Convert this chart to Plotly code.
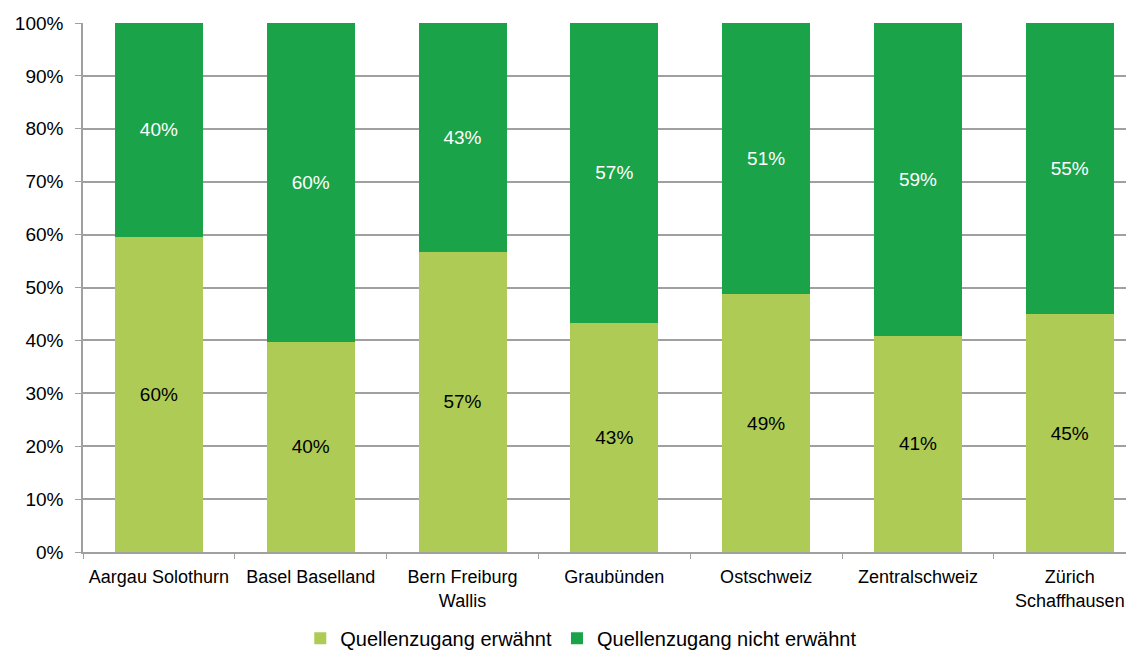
import plotly.graph_objects as go

categories = ["Aargau Solothurn", "Basel Baselland", "Bern Freiburg<br>Wallis", "Graubünden",
              "Ostschweiz", "Zentralschweiz", "Zürich<br>Schaffhausen"]
erwaehnt = [59.6, 39.7, 56.8, 43.3, 48.7, 40.9, 44.9]
nicht_erwaehnt = [40.4, 60.3, 43.2, 56.7, 51.3, 59.1, 55.1]
tick_vals = [0, 10, 20, 30, 40, 50, 60, 70, 80, 90, 100]
tick_text = [f"{v}%" for v in tick_vals]

font = "Liberation Sans, Arial, sans-serif"

fig = go.Figure()
fig.add_trace(go.Bar(
    x=categories, y=erwaehnt, name="Quellenzugang erwähnt",
    marker=dict(color="#AECB55", line=dict(width=0)),
    text=[f"{round(v)}%" for v in erwaehnt], textposition="inside",
    insidetextanchor="middle", textfont=dict(color="black", size=19, family=font),
    hoverinfo="skip"))
fig.add_trace(go.Bar(
    x=categories, y=nicht_erwaehnt, name="Quellenzugang nicht erwähnt",
    marker=dict(color="#1BA34A", line=dict(width=0)),
    text=[f"{round(v)}%" for v in nicht_erwaehnt], textposition="inside",
    insidetextanchor="middle", textfont=dict(color="white", size=19, family=font),
    hoverinfo="skip"))

# page body has an 8px margin: compensate so the plot lands where the reference has it
fig.update_layout(
    barmode="stack", bargap=0.42,
    width=1126, height=644,
    margin=dict(l=75, r=2, t=15, b=100, autoexpand=False),
    plot_bgcolor="white", paper_bgcolor="white",
    font=dict(family=font, size=18, color="black"),
    uniformtext=dict(mode=False),
    legend=dict(orientation="h", x=0.475, xanchor="center", y=-0.163, yanchor="middle",
                font=dict(size=20), itemwidth=30, traceorder="normal"),
    xaxis=dict(range=[-0.5, 6.41],
               showline=True, linecolor="#A0A0A0", linewidth=1.5, ticks="outside",
               tickson="boundaries", ticklen=5, tickcolor="#A0A0A0",
               tickfont=dict(size=18), showgrid=False, ticklabelstandoff=8,
               automargin=False),
    yaxis=dict(range=[0, 100], tickvals=tick_vals, ticktext=tick_text,
               showgrid=True, gridcolor="#A0A0A0", gridwidth=1.5,
               showline=True, linecolor="#A0A0A0", linewidth=1.5,
               ticks="outside", ticklen=6, tickcolor="#A0A0A0",
               tickfont=dict(size=19), zeroline=False, ticklabelstandoff=8,
               automargin=False),
)
fig.write_html("out.html")
